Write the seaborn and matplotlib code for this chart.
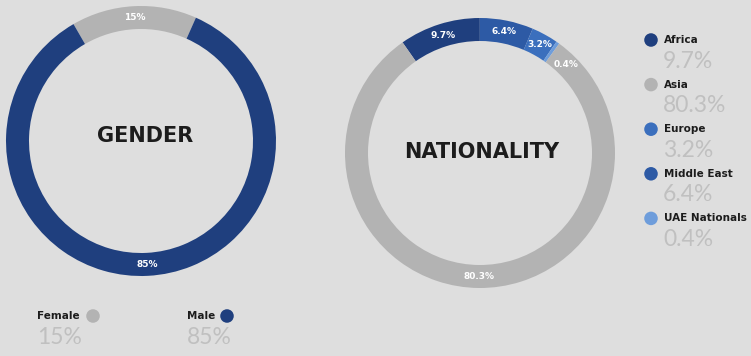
import numpy as np
import pandas as pd
import matplotlib
matplotlib.use("Agg")
import matplotlib.pyplot as plt
import seaborn as sns

# ---------------- data ----------------
gender_labels = ["Female", "Male"]
gender_values = [15, 85]
gender_text = ["15%", "85%"]

nat_ring_order = ["Africa", "Middle East", "Europe", "UAE Nationals", "Asia"]
nat_values = [9.7, 6.4, 3.2, 0.4, 80.3]
nat_text = ["9.7%", "6.4%", "3.2%", "0.4%", "80.3%"]

legend_order = ["Africa", "Asia", "Europe", "Middle East", "UAE Nationals"]
legend_values = ["9.7%", "80.3%", "3.2%", "6.4%", "0.4%"]

colors = {
    "Female": "#b3b3b3", "Male": "#1f3f7e",
    "Africa": "#1f3f7e", "Asia": "#b3b3b3", "Europe": "#3b6fbd",
    "Middle East": "#2d5aa5", "UAE Nationals": "#6e9ddb",
}

# ---------------- style ----------------
W, H = 751, 356
BG = "#dedede"
sns.set_theme(style="white", rc={"figure.facecolor": BG, "axes.facecolor": BG})
plt.rcParams['font.family'] = ['DejaVu Sans']
LIGHT = ['Lato', 'Open Sans', 'DejaVu Sans']

fig = plt.figure(figsize=(W / 100, H / 100), dpi=100)
fig.patch.set_facecolor(BG)

RING = 23 / 135
LBL_R = 1 - RING / 2


def donut_axes(cx, cy, r):
    ax = fig.add_axes([(cx - r) / W, 1 - (cy + r) / H, 2 * r / W, 2 * r / H])
    ax.set_facecolor("none")
    return ax


def make_autopct(texts):
    it = iter(texts)
    return lambda pct: next(it)


def draw_donut(ax, values, names, texts, startangle):
    wedges, _, autotexts = ax.pie(
        values, colors=[colors[n] for n in names], startangle=startangle,
        counterclock=False, autopct=make_autopct(texts), pctdistance=LBL_R,
        wedgeprops=dict(width=RING, linewidth=0),
        textprops=dict(color="white", fontsize=6.5, fontweight="bold"))
    ax.set_xlim(-1, 1)
    ax.set_ylim(-1, 1)
    ax.axis("off")
    return wedges, autotexts


# gender donut
axg = donut_axes(141, 141, 135)
draw_donut(axg, gender_values, gender_labels, gender_text, 120)
axg.text(0.03, 0.04, "GENDER", ha="center", va="center", fontsize=15,
         fontweight="bold", color="#1c1c1c")

# nationality donut
axn = donut_axes(480, 153, 135)
wedges, autotexts = draw_donut(axn, nat_values, nat_ring_order, nat_text, 125)
# nudge the tiny-wedge label clockwise so it does not collide
w = wedges[3]
mid = np.deg2rad((w.theta1 + w.theta2) / 2 - 9)
autotexts[3].set_position((LBL_R * np.cos(mid), LBL_R * np.sin(mid)))
axn.text(0.01, 0.01, "NATIONALITY", ha="center", va="center", fontsize=15,
         fontweight="bold", color="#1c1c1c")

# ---------------- legends (overlay in pixel coords) ----------------
ax0 = fig.add_axes([0, 0, 1, 1])
ax0.set_facecolor("none")

leg_y = [40 + 44.6 * i for i in range(len(legend_order))]
dots = pd.DataFrame({
    "x": [651] * len(legend_order) + [93, 227],
    "y": leg_y + [316, 316],
    "name": legend_order + ["Female", "Male"],
})
sns.scatterplot(data=dots, x="x", y="y", hue="name", palette=colors,
                s=95, linewidth=0, legend=False, ax=ax0)
ax0.set_xlim(0, W)
ax0.set_ylim(H, 0)
ax0.axis("off")

for name, val, y in zip(legend_order, legend_values, leg_y):
    ax0.text(664, y, name, ha="left", va="center", fontsize=7.5,
             fontweight="bold", color="#1c1c1c")
    ax0.text(663, y + 21, val, ha="left", va="center", fontsize=16.5,
             fontweight="normal", family=LIGHT, color="#c0c0c0")

for name, val, x in zip(gender_labels, gender_text, [37, 187]):
    ax0.text(x, 316, name, ha="left", va="center", fontsize=7.5,
             fontweight="bold", color="#1c1c1c")
    ax0.text(x, 338, val, ha="left", va="center", fontsize=16.5,
             fontweight="normal", family=LIGHT, color="#c0c0c0")

fig.savefig("out.png", dpi=100, facecolor=BG)
